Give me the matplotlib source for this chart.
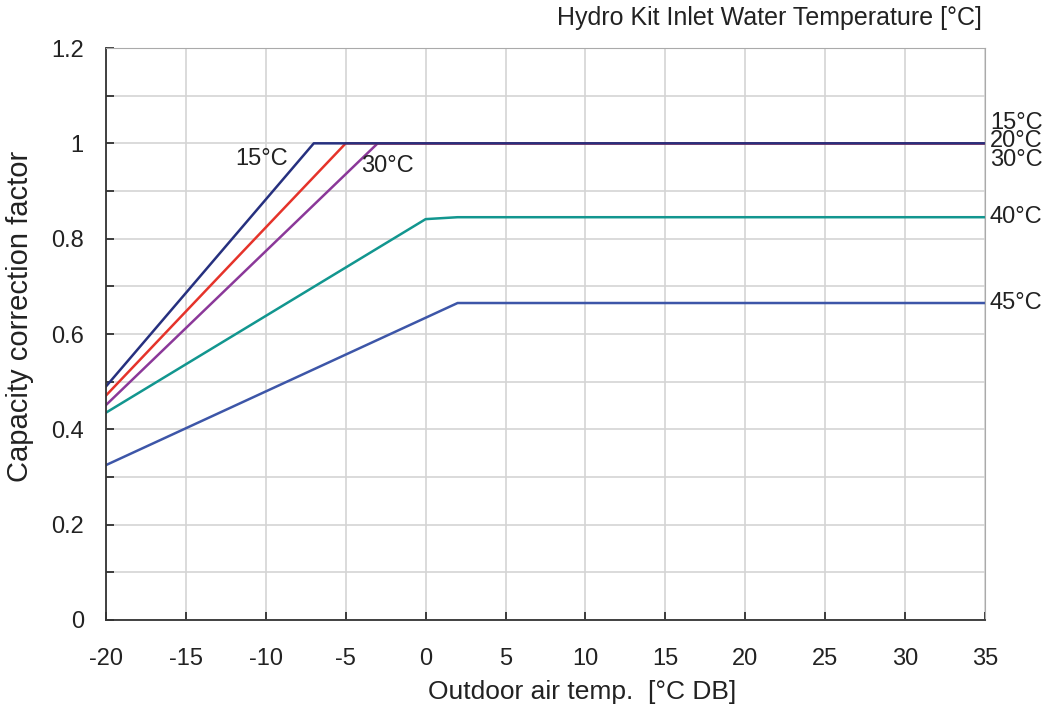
import matplotlib.pyplot as plt
import numpy as np

plt.rcParams['font.family'] = ['Liberation Sans', 'DejaVu Sans']

# inlet water temperature curves: outdoor temp breakpoints and factors
x15 = [-20, -7, 35]
y15 = [0.49, 1.0, 1.0]
x20 = [-20, -5, 35]
y20 = [0.471, 1.0, 1.0]
x30 = [-20, -3, 35]
y30 = [0.451, 1.0, 1.0]
x40 = [-20, 0, 2, 35]
y40 = [0.435, 0.841, 0.845, 0.845]
x45 = [-20, 2, 35]
y45 = [0.325, 0.665, 0.665]

labels_right = ["15°C", "20°C", "30°C", "40°C", "45°C"]
label_y = [1.043, 1.004, 0.965, 0.845, 0.665]

xticks = np.arange(-20, 36, 5)
yticks = [0, 0.2, 0.4, 0.6, 0.8, 1, 1.2]
yticklabels = ["0", "0.2", "0.4", "0.6", "0.8", "1", "1.2"]

fig = plt.figure(figsize=(10.49, 7.12), dpi=100)
ax = fig.add_axes([106/1049, 1-620/712, (985-106)/1049, (620-48)/712])

ax.plot(x45, y45, color="#3d56a8", lw=1.8)
ax.plot(x40, y40, color="#12968f", lw=1.8)
ax.plot(x30, y30, color="#8b3899", lw=1.8)
ax.plot(x20, y20, color="#e5332a", lw=1.8)
ax.plot(x15, y15, color="#26307f", lw=1.8)

ax.set_xlim(-20, 35)
ax.set_ylim(0, 1.2)
ax.set_xticks(xticks)
ax.set_xticklabels([str(v) for v in xticks])
ax.set_yticks(yticks)
ax.set_yticklabels(yticklabels)
ax.set_yticks(np.arange(0, 1.21, 0.1), minor=True)
ax.grid(True, which="both", color="#d4d4d4", lw=1.2)
ax.set_axisbelow(True)

ax.tick_params(axis="both", which="both", direction="in", length=6, width=1.2,
               labelsize=17, colors="#222222")
ax.tick_params(axis="x", pad=20)
ax.tick_params(axis="y", pad=16)

ax.spines["left"].set_color("#333333")
ax.spines["bottom"].set_color("#333333")
ax.spines["left"].set_linewidth(1.3)
ax.spines["bottom"].set_linewidth(1.3)
ax.spines["top"].set_color("#aaaaaa")
ax.spines["right"].set_color("#aaaaaa")

ax.set_xlabel("Outdoor air temp.  [°C DB]", fontsize=19, color="#222222")
ax.xaxis.set_label_coords((582 - 106) / 879, -(692 - 620) / 572, transform=ax.transAxes)
ax.xaxis.label.set_va("center")
ax.set_ylabel("Capacity correction factor", fontsize=21, color="#222222")
ax.yaxis.set_label_coords((20 - 106) / 879, (620 - 316) / 572, transform=ax.transAxes)
ax.yaxis.label.set_va("center")

ax.text(-10.25, 0.968, "15°C", fontsize=17, ha="center", va="center", color="#222222")
ax.text(-2.4, 0.953, "30°C", fontsize=17, ha="center", va="center", color="#222222")

for lab, yy in zip(labels_right, label_y):
    ax.text(35.3, yy, lab, fontsize=17, ha="left", va="center", color="#222222",
            clip_on=False)

fig.text(982/1049, 1-18/712, "Hydro Kit Inlet Water Temperature [°C]", fontsize=18,
         ha="right", va="center", color="#222222")

fig.savefig("out.png", dpi=100)
